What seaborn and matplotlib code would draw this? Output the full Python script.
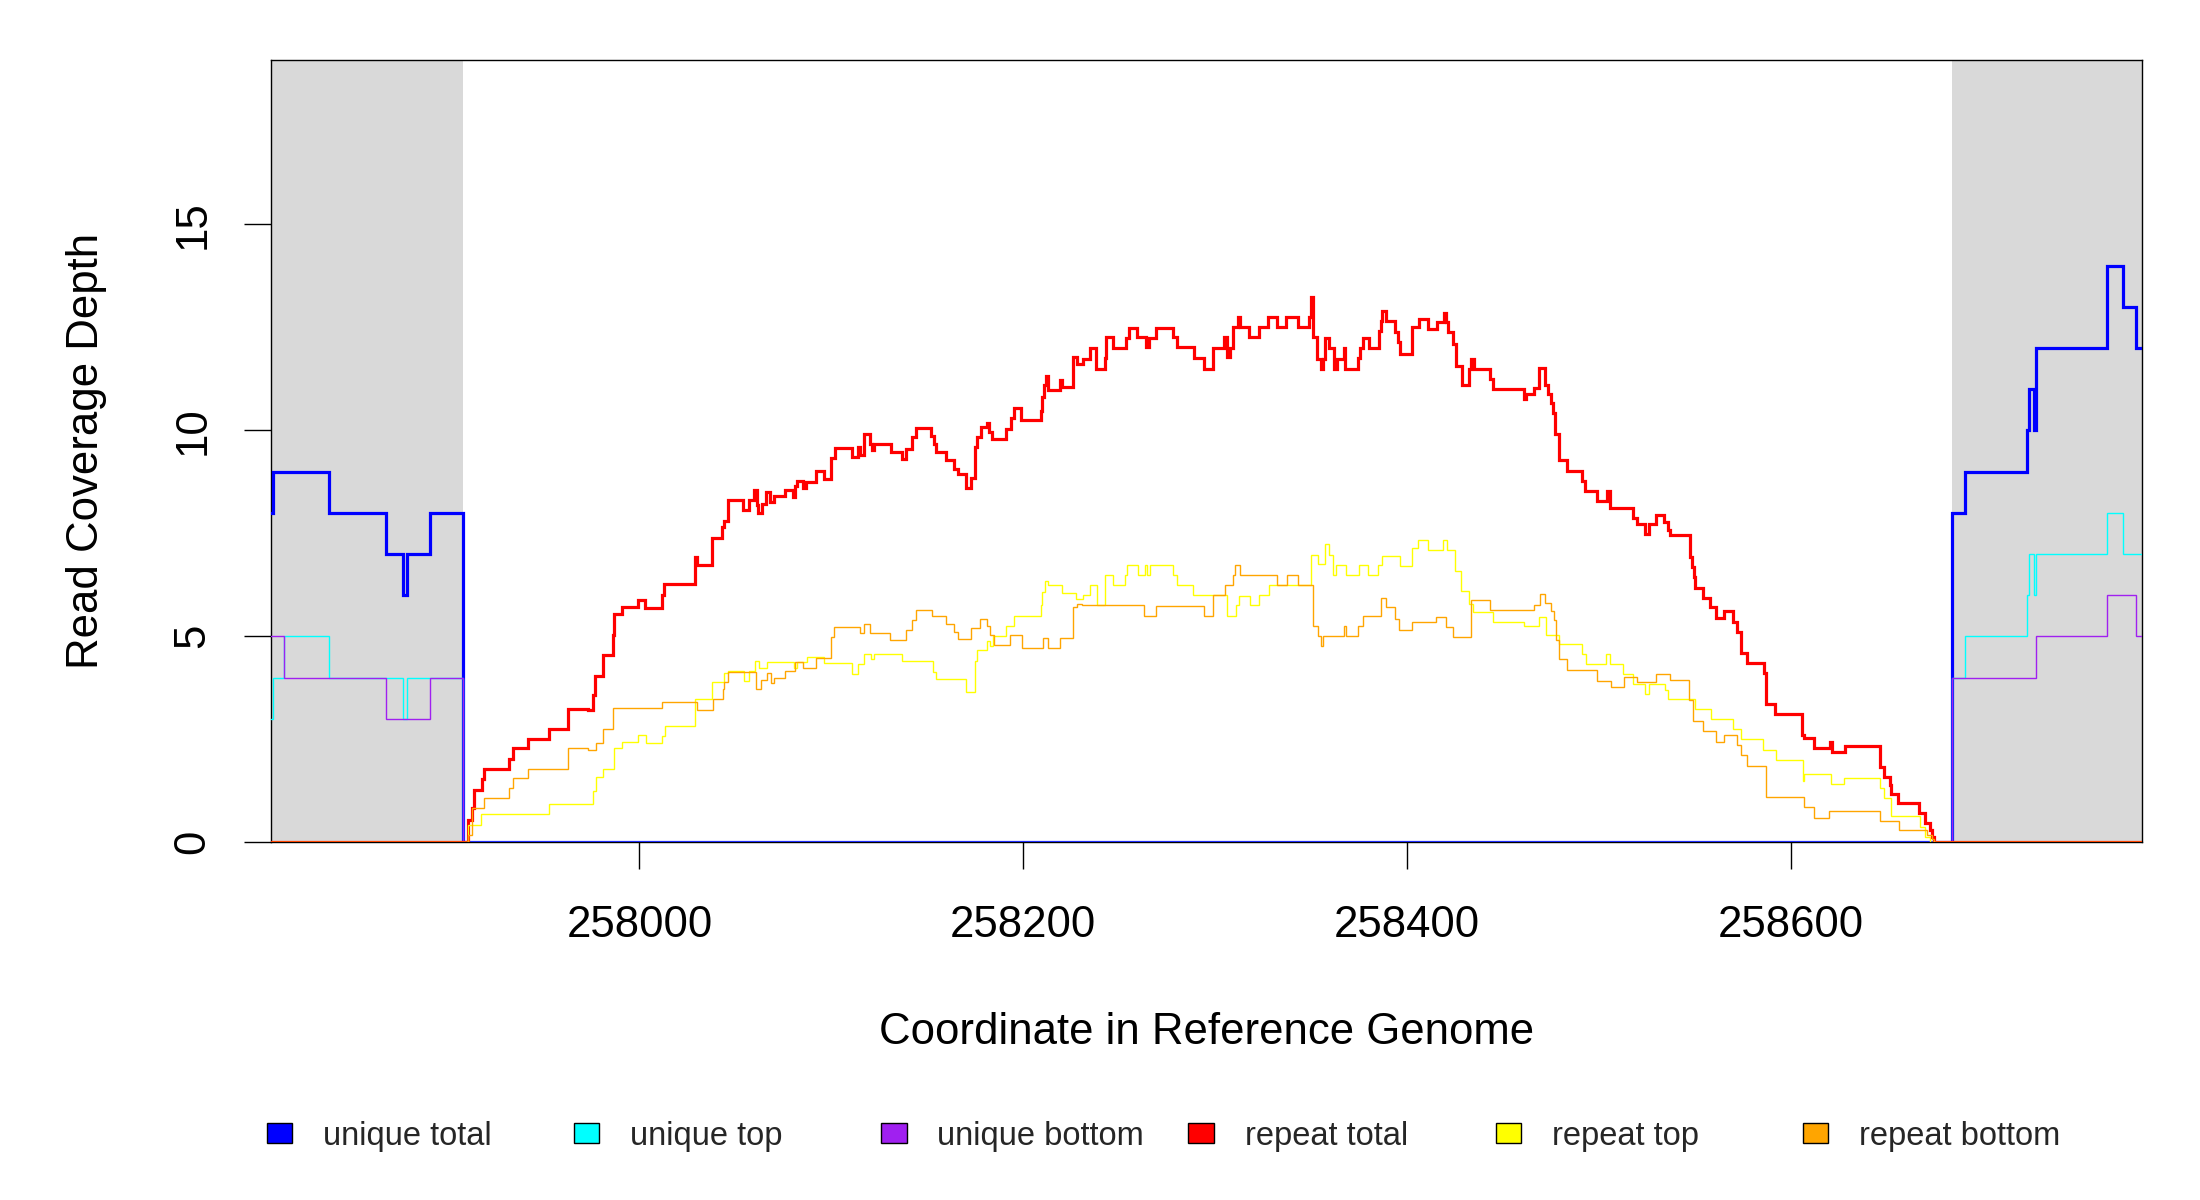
import matplotlib
matplotlib.use("Agg")
import matplotlib.pyplot as plt
import seaborn as sns
from matplotlib.patches import Rectangle

# region shown and the flanking (grey) parts
x_start, x_end = 257808, 258783
flank_left_end, flank_right_start = 257908, 258684

# unique reads: step positions (start of each step) and depth
ut_pos = [257808, 257809, 257838, 257868, 257877, 257879, 257891, 257908,
          258684, 258691, 258723, 258724, 258726.5, 258728, 258765, 258773, 258780, 258783]
ut_val = [8, 9, 8, 7, 6, 7, 8, 0,
          8, 9, 10, 11, 10, 12, 14, 13, 12, 12]

utop_pos = [257808, 257809, 257815, 257838, 257877, 257879, 257908,
            258684, 258691, 258723, 258724, 258726.5, 258728, 258765, 258773, 258783]
utop_val = [3, 4, 5, 4, 3, 4, 0,
            4, 5, 6, 7, 6, 7, 8, 7, 7]

ubot_pos = [257808, 257815, 257868, 257891, 257908, 258684, 258728, 258765, 258780, 258783]
ubot_val = [5, 4, 3, 4, 0, 4, 5, 6, 5, 5]

# repeat reads
rt_pos = [257808, 257910.5, 257913, 257914, 257918, 257919, 257932, 257934, 257942, 257953,
          257963, 257973, 257976, 257977, 257981, 257986, 257987, 257991, 257999, 258003,
          258012, 258013, 258029, 258030, 258038, 258043, 258044, 258046, 258054, 258057,
          258059.5, 258061, 258062, 258064, 258066, 258068, 258070, 258076, 258080, 258081,
          258082, 258085, 258087, 258092, 258096, 258100, 258102, 258111, 258114, 258115,
          258117, 258120, 258121, 258122, 258131, 258137, 258139, 258142, 258144, 258152,
          258153.5, 258154.5, 258160, 258164, 258166, 258170, 258173, 258175, 258176, 258178,
          258181, 258182, 258183.5, 258191, 258193.5, 258195, 258199, 258209, 258210, 258211,
          258212, 258213, 258219, 258220, 258226, 258228, 258231, 258235, 258238, 258242.5,
          258243, 258247, 258253.5, 258255, 258259.5, 258264, 258265.5, 258269, 258278, 258280,
          258289, 258294, 258299, 258304.5, 258306, 258308, 258309.5, 258312, 258313, 258317.7,
          258323, 258327.7, 258332, 258337, 258343.3, 258349, 258350, 258351, 258353, 258355,
          258356.3, 258357.2, 258359.5, 258362, 258363.3, 258367, 258367.6, 258374.6, 258375.5, 258377.2,
          258380.4, 258385.4, 258386.4, 258387, 258389, 258393.7, 258395.5, 258396.3, 258402.4, 258406,
          258411, 258415.5, 258419.3, 258420.2, 258421.6, 258424.2, 258425.4, 258428.5, 258432.5, 258433.2,
          258435, 258443.3, 258445, 258461.2, 258462, 258466.3, 258469, 258472, 258473.4, 258475,
          258476.3, 258477.2, 258479, 258483.3, 258491, 258493, 258499, 258504, 258506, 258518,
          258519.6, 258524, 258526, 258530, 258534, 258536, 258537, 258547.5, 258548.3, 258549.6,
          258550.1, 258554, 258558, 258561, 258565, 258570, 258572, 258574, 258577, 258586,
          258587, 258592, 258606, 258607, 258612, 258620.5, 258621.4, 258628, 258646.6, 258648.3,
          258651.5, 258652.3, 258656, 258667, 258670, 258672.3, 258673.6, 258674.4, 258783]
rt_val = [0, 0.54, 0.84, 1.28, 1.53, 1.78, 2.03, 2.29, 2.50, 2.75,
          3.23, 3.20, 3.57, 4.04, 4.54, 5.02, 5.53, 5.70, 5.87, 5.68,
          6.00, 6.26, 6.92, 6.74, 7.39, 7.65, 7.81, 8.31, 8.06, 8.31,
          8.56, 8.18, 7.99, 8.22, 8.50, 8.26, 8.40, 8.54, 8.38, 8.64,
          8.77, 8.61, 8.74, 9.01, 8.82, 9.33, 9.57, 9.35, 9.59, 9.39,
          9.91, 9.67, 9.51, 9.66, 9.47, 9.31, 9.55, 9.83, 10.06, 9.87,
          9.66, 9.47, 9.27, 9.07, 8.93, 8.61, 8.85, 9.59, 9.83, 10.09,
          10.17, 9.95, 9.79, 10.04, 10.30, 10.54, 10.24, 10.48, 10.82, 11.09,
          11.33, 10.97, 11.21, 11.05, 11.79, 11.61, 11.73, 12.00, 11.49, 11.76,
          12.26, 12.00, 12.24, 12.48, 12.26, 12.02, 12.24, 12.48, 12.26, 12.02,
          11.76, 11.49, 12.00, 12.26, 11.77, 12.00, 12.50, 12.74, 12.50, 12.26,
          12.50, 12.74, 12.50, 12.74, 12.50, 12.74, 13.24, 12.26, 11.73, 11.49,
          11.73, 12.24, 12.00, 11.49, 11.73, 12.00, 11.49, 11.76, 12.00, 12.24,
          12.00, 12.40, 12.66, 12.90, 12.66, 12.38, 12.14, 11.85, 12.50, 12.70,
          12.46, 12.62, 12.84, 12.62, 12.38, 12.10, 11.57, 11.09, 11.49, 11.73,
          11.49, 11.25, 11.00, 10.76, 10.88, 11.03, 11.51, 11.09, 10.87, 10.66,
          10.42, 9.91, 9.27, 9.02, 8.77, 8.52, 8.28, 8.52, 8.12, 7.88,
          7.73, 7.49, 7.73, 7.94, 7.77, 7.57, 7.45, 6.93, 6.68, 6.44,
          6.18, 5.94, 5.70, 5.45, 5.62, 5.35, 5.11, 4.60, 4.36, 4.11,
          3.35, 3.11, 2.60, 2.52, 2.28, 2.44, 2.20, 2.34, 1.83, 1.59,
          1.39, 1.17, 0.96, 0.70, 0.46, 0.30, 0.14, 0, 0]

rtop_pos = [257808, 257910.5, 257917.6, 257952.9, 257976, 257977.2, 257981.2, 257986.8, 257991.1, 257999.3,
            258003.3, 258012, 258013.2, 258029, 258038, 258044.2, 258045.9, 258054.3, 258057.2, 258060.2,
            258062.4, 258066.3, 258080.3, 258082.1, 258087.3, 258096, 258111, 258114, 258117, 258120.9,
            258122, 258137, 258153, 258154.4, 258170, 258175, 258176, 258181, 258182.6, 258184.3,
            258191, 258195, 258209, 258210, 258211.6, 258213, 258220, 258227.3, 258231.3, 258234.8,
            258238.2, 258242.6, 258247, 258253, 258254.3, 258260, 258263.5, 258264.4, 258266, 258278.3,
            258280, 258288.3, 258306, 258311, 258312.5, 258318, 258323, 258328, 258349.7, 258350.2,
            258353.7, 258357.2, 258359.3, 258361.6, 258362.8, 258368.2, 258375.1, 258379.8, 258385, 258387.1,
            258396.4, 258402.4, 258405.9, 258411.1, 258419, 258420.7, 258425, 258428, 258432.5, 258434.6,
            258445, 258461.2, 258469, 258472.5, 258479, 258491.1, 258493.4, 258503.8, 258506, 258512.7,
            258517.9, 258524, 258526.1, 258534.4, 258536.2, 258550.1, 258558.3, 258570.1, 258573.9, 258585.7,
            258592.3, 258606.1, 258607, 258621, 258627.8, 258646.3, 258648.3, 258652, 258667.1, 258670,
            258672.3, 258783]
rtop_val = [0, 0.43, 0.69, 0.93, 1.25, 1.59, 1.77, 2.28, 2.44, 2.60,
            2.40, 2.58, 2.82, 3.49, 3.89, 4.10, 4.15, 3.91, 4.15, 4.40,
            4.24, 4.38, 4.24, 4.38, 4.50, 4.34, 4.08, 4.32, 4.57, 4.44,
            4.56, 4.40, 4.14, 3.97, 3.65, 4.40, 4.66, 4.89, 4.76, 5.00,
            5.24, 5.50, 5.75, 6.08, 6.34, 6.24, 6.05, 5.91, 6.00, 6.24,
            5.75, 6.50, 6.25, 6.50, 6.74, 6.50, 6.74, 6.50, 6.74, 6.50,
            6.25, 6.00, 5.49, 5.75, 5.98, 5.75, 6.00, 6.24, 6.50, 6.98,
            6.75, 7.23, 6.98, 6.50, 6.74, 6.50, 6.74, 6.50, 6.74, 6.94,
            6.70, 7.14, 7.34, 7.10, 7.34, 7.09, 6.59, 6.09, 5.79, 5.59,
            5.35, 5.24, 5.47, 5.04, 4.82, 4.58, 4.32, 4.58, 4.32, 4.08,
            3.84, 3.60, 3.84, 3.69, 3.49, 3.23, 2.99, 2.74, 2.50, 2.24,
            2.00, 1.49, 1.65, 1.41, 1.55, 1.31, 1.07, 0.64, 0.38, 0.13,
            0, 0]

rbot_pos = [257808, 257910.5, 257913, 257919, 257932, 257934, 257942, 257963, 257973.2, 257977.2,
            257981.2, 257986.3, 258012, 258029.9, 258038.1, 258043.3, 258044.2, 258045.9, 258060.7, 258063.6,
            258066.3, 258068.5, 258070.3, 258075.8, 258081, 258085, 258092, 258099.8, 258101.6, 258114.8,
            258116.9, 258120, 258130.8, 258138.8, 258142.1, 258144, 258152.2, 258160, 258163.8, 258166.1,
            258173, 258177.7, 258180.9, 258182.6, 258184.7, 258193, 258199.1, 258210.1, 258213, 258219.1,
            258226.1, 258227.8, 258230.8, 258263, 258269.2, 258294, 258299.1, 258305.2, 258309.2, 258310.5,
            258313, 258332, 258337.2, 258343.3, 258351.1, 258353.7, 258355.1, 258356, 258367.1, 258368.2,
            258374.3, 258377.2, 258386.4, 258389, 258393.7, 258395.8, 258402.4, 258415.1, 258420.2, 258424.2,
            258433.2, 258443.3, 258466.3, 258469.4, 258472, 258475.1, 258476.7, 258477.7, 258479, 258483.3,
            258499, 258506.3, 258513, 258520, 258530, 258537, 258547.1, 258548.9, 258554.1, 258561,
            258565.2, 258571.8, 258573.9, 258577, 258587.1, 258607.1, 258612.2, 258620, 258646.3, 258656.2,
            258671, 258673.6, 258674.4, 258783]
rbot_val = [0, 0.18, 0.84, 1.08, 1.33, 1.57, 1.78, 2.28, 2.25, 2.41,
            2.75, 3.25, 3.41, 3.22, 3.47, 3.71, 3.89, 4.14, 3.71, 3.95,
            4.10, 3.87, 4.00, 4.15, 4.38, 4.24, 4.48, 4.98, 5.23, 5.08,
            5.31, 5.07, 4.90, 5.15, 5.39, 5.65, 5.49, 5.29, 5.11, 4.94,
            5.19, 5.43, 5.24, 5.03, 4.78, 5.02, 4.72, 4.96, 4.72, 4.96,
            5.71, 5.79, 5.75, 5.49, 5.74, 5.49, 6.00, 6.25, 6.50, 6.74,
            6.50, 6.25, 6.50, 6.25, 5.24, 5.00, 4.76, 5.00, 5.24, 5.00,
            5.24, 5.49, 5.93, 5.70, 5.43, 5.15, 5.35, 5.47, 5.23, 4.98,
            5.87, 5.63, 5.77, 6.02, 5.82, 5.62, 5.39, 4.90, 4.44, 4.18,
            3.92, 3.77, 4.02, 3.88, 4.08, 3.93, 3.45, 2.95, 2.70, 2.44,
            2.60, 2.36, 2.12, 1.85, 1.11, 0.86, 0.60, 0.77, 0.52, 0.31,
            0.17, 0.08, 0, 0]

legend_labels = ['unique total', 'unique top', 'unique bottom',
                 'repeat total', 'repeat top', 'repeat bottom']
legend_colors = ['#0000FF', '#00FFFF', '#A020F0', '#FF0000', '#FFFF00', '#FFA500']
x_ticks = [258000, 258200, 258400, 258600]
y_ticks = [0, 5, 10, 15]

sns.set_theme(style="white")
plt.rcParams['font.family'] = ['Liberation Sans', 'DejaVu Sans']

W, H = 2200, 1200
fig = plt.figure(figsize=(22, 12), dpi=100)
ax = fig.add_axes([271 / W, 1 - 842.3 / H, (2142 - 271) / W, (842.3 - 59.5) / H])

# grey flanks
ax.axvspan(x_start, flank_left_end, color='#D9D9D9', lw=0, zorder=0)
ax.axvspan(flank_right_start, x_end, color='#D9D9D9', lw=0, zorder=0)

series = [(ut_pos, ut_val, 2.3), (utop_pos, utop_val, 1.0), (ubot_pos, ubot_val, 1.0),
          (rt_pos, rt_val, 2.3), (rtop_pos, rtop_val, 1.0), (rbot_pos, rbot_val, 1.0)]
for (pos, val, lw), col in zip(series, legend_colors):
    sns.lineplot(x=pos, y=val, ax=ax, color=col, linewidth=lw, drawstyle='steps-post',
                 estimator=None, sort=False, solid_joinstyle='miter')

ax.set_xlim(x_start, x_end)
ax.set_ylim(0, 19)
ax.set_xticks(x_ticks)
ax.set_xticklabels([str(t) for t in x_ticks])
ax.set_yticks(y_ticks)
ax.set_yticklabels([str(t) for t in y_ticks])
ax.tick_params(axis='both', which='major', bottom=True, left=True, direction='out',
               length=19.4, width=1, color='black', labelsize=31.5, labelcolor='black')
ax.tick_params(axis='x', pad=26)
ax.tick_params(axis='y', pad=37, labelrotation=90)
plt.setp(ax.get_yticklabels(), ha='center', va='center')

# box under the lines so the zero lines stay visible
for sp in ax.spines.values():
    sp.set_color('black')
    sp.set_linewidth(1)
    sp.set_zorder(1.5)

ax.set_xlabel("Coordinate in Reference Genome", fontsize=31.5, color='black')
ax.xaxis.set_label_coords(0.5, (842.3 - 1032) / (842.3 - 59.5))
ax.xaxis.label.set_va('center')
ax.set_ylabel("Read Coverage Depth", fontsize=31.5, color='black')
ax.yaxis.set_label_coords((87 - 271) / (2142 - 271), 0.5)
ax.yaxis.label.set_va('center')

# legend row under the plot, evenly spaced like base R's horiz legend
for i, (lab, col) in enumerate(zip(legend_labels, legend_colors)):
    cx = 279.5 + 307.2 * i
    fig.add_artist(Rectangle(((cx - 12.75) / W, 1 - 1143 / H), 25.5 / W, 20 / H,
                             facecolor=col, edgecolor='black', lw=1,
                             transform=fig.transFigure))
    fig.text((cx + 43.5) / W, 1 - 1145 / H, lab, fontsize=23.5, ha='left', va='baseline')

fig.savefig('out.png', dpi=100)
